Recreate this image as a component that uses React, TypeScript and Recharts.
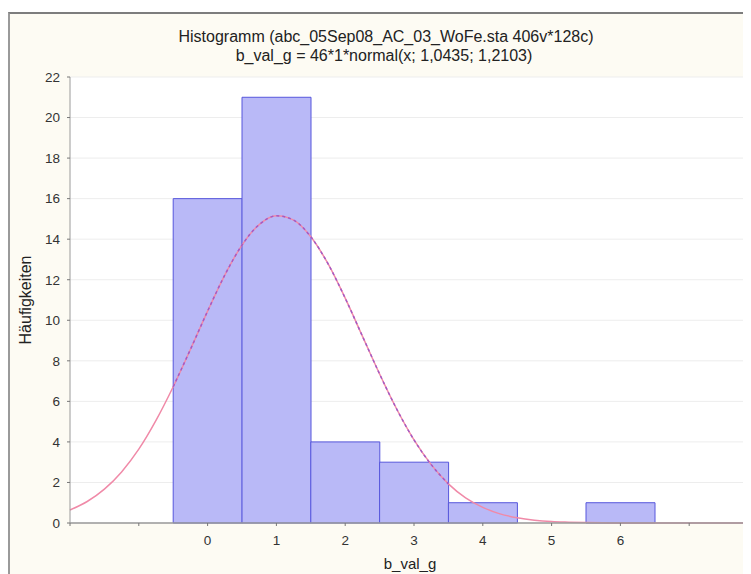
import { ComposedChart, Bar, Line, XAxis, YAxis, CartesianGrid } from 'recharts';

const binCenters = [-2, -1, 0, 1, 2, 3, 4, 5, 6, 7, 8];
const binCounts = [0, 0, 16, 21, 4, 3, 1, 0, 1, 0, 0];

const curveX = [
  -2, -1.75, -1.5, -1.25, -1, -0.75, -0.5, -0.25, 0, 0.25, 0.5, 0.75, 1, 1.25, 1.5, 1.75, 2, 2.25, 2.5, 2.75,
  3, 3.25, 3.5, 3.75, 4, 4.25, 4.5, 4.75, 5, 5.25, 5.5, 5.75, 6, 6.25, 6.5, 6.75, 7, 7.25, 7.5, 7.75, 8,
];
const curveY = [
  0.64, 1.06, 1.67, 2.52, 3.64, 5.06, 6.72, 8.56, 10.45, 12.23, 13.71, 14.72, 15.15, 14.94, 14.12, 12.79, 11.09,
  9.22, 7.35, 5.61, 4.1, 2.88, 1.93, 1.24, 0.77, 0.45, 0.26, 0.14, 0.07, 0.04, 0.02, 0.01, 0, 0, 0, 0, 0, 0, 0,
  0, 0,
];

const xTicks = [-2, -1, 0, 1, 2, 3, 4, 5, 6, 7, 8];
const xTickLabels = ['', '', '0', '1', '2', '3', '4', '5', '6', '', ''];
const yTicks = [0, 2, 4, 6, 8, 10, 12, 14, 16, 18, 20, 22];

const title = 'Histogramm (abc_05Sep08_AC_03_WoFe.sta 406v*128c)';
const subtitle = 'b_val_g = 46*1*normal(x; 1,0435; 1,2103)';
const xLabel = 'b_val_g';
const yLabel = 'Häufigkeiten';

// dashed overlay where the curve runs across the filled bars
const overlayRange = [-0.5, 3.5];

const barData = binCenters.map((x, i) => ({ x, count: binCounts[i] > 0 ? binCounts[i] : null }));
const curveData = curveX.map((x, i) => ({ x, curve: curveY[i] }));
const overlayData = curveData.filter((d) => d.x >= overlayRange[0] && d.x <= overlayRange[1]);

const FONT = 'Arial, "Liberation Sans", sans-serif';
const CHART_W = 758;
const CHART_H = 574;
const Y_AXIS_W = 70;

export default function App() {
  return (
    <div
      style={{
        position: 'relative',
        width: 751,
        height: 574,
        marginTop: -8,
        marginLeft: -8,
        overflow: 'hidden',
        background: '#fff',
        fontFamily: FONT,
      }}
    >
      <div
        style={{
          position: 'absolute',
          left: 8,
          top: 12,
          width: 770,
          height: 600,
          borderTop: '2px solid #7d7d7d',
          borderLeft: '2px solid #9a9a9a',
          background: '#fdfbf3',
        }}
      />
      <div style={{ position: 'absolute', left: 0, top: 0 }}>
        <ComposedChart
          width={CHART_W}
          height={CHART_H}
          data={barData}
          barCategoryGap="0%"
          barGap={0}
          margin={{ top: 77, right: 0, bottom: 0, left: 0 }}
        >
          <CartesianGrid vertical={false} stroke="#ededed" fill="#ffffff" />
          <XAxis
            dataKey="x"
            type="number"
            domain={[-2, 8]}
            ticks={xTicks}
            interval={0}
            height={51}
            tickSize={3}
            tickMargin={9}
            axisLine={{ stroke: '#9a9a9a', strokeWidth: 1.5 }}
            tickLine={{ stroke: '#777' }}
            tick={{ fill: '#333', fontSize: 13.5, fontFamily: FONT }}
            tickFormatter={(v: number) => xTickLabels[xTicks.indexOf(v)] ?? ''}
          />
          <XAxis
            xAxisId="curve"
            dataKey="x"
            type="number"
            orientation="top"
            domain={[-2, 8]}
            ticks={xTicks}
            height={0}
            tickSize={3}
            tick={false}
            axisLine={{ stroke: '#9a9a9a' }}
            tickLine={{ stroke: '#888' }}
          />
          <YAxis
            type="number"
            domain={[0, 22]}
            ticks={yTicks}
            interval={0}
            width={Y_AXIS_W}
            tickSize={3}
            tickMargin={7}
            axisLine={{ stroke: '#9a9a9a' }}
            tickLine={{ stroke: '#777' }}
            tick={{ fill: '#333', fontSize: 13.5, fontFamily: FONT }}
          />
          <Bar
            dataKey="count"
            fill="#b9b9f7"
            stroke="#5656dc"
            strokeWidth={1}
            isAnimationActive={false}
          />
          <Line
            xAxisId="curve"
            data={curveData}
            dataKey="curve"
            type="monotone"
            stroke="#f08aa8"
            strokeWidth={1.5}
            dot={false}
            activeDot={false}
            isAnimationActive={false}
          />
          <Line
            xAxisId="curve"
            data={overlayData}
            dataKey="curve"
            type="monotone"
            stroke="#a45ac4"
            strokeWidth={1.5}
            strokeDasharray="3 3"
            dot={false}
            activeDot={false}
            isAnimationActive={false}
          />
        </ComposedChart>
      </div>
      <svg
        width={751}
        height={574}
        style={{ position: 'absolute', left: 0, top: 0, pointerEvents: 'none' }}
        fontFamily={FONT}
        fill="#222"
      >
        <text x={386} y={36} textAnchor="middle" dominantBaseline="central" fontSize={16}>
          {title}
        </text>
        <text x={384} y={55} textAnchor="middle" dominantBaseline="central" fontSize={16}>
          {subtitle}
        </text>
        <text x={410} y={563} textAnchor="middle" dominantBaseline="central" fontSize={15}>
          {xLabel}
        </text>
        <text
          transform="translate(25,300) rotate(-90)"
          textAnchor="middle"
          dominantBaseline="central"
          fontSize={16}
        >
          {yLabel}
        </text>
      </svg>
    </div>
  );
}
